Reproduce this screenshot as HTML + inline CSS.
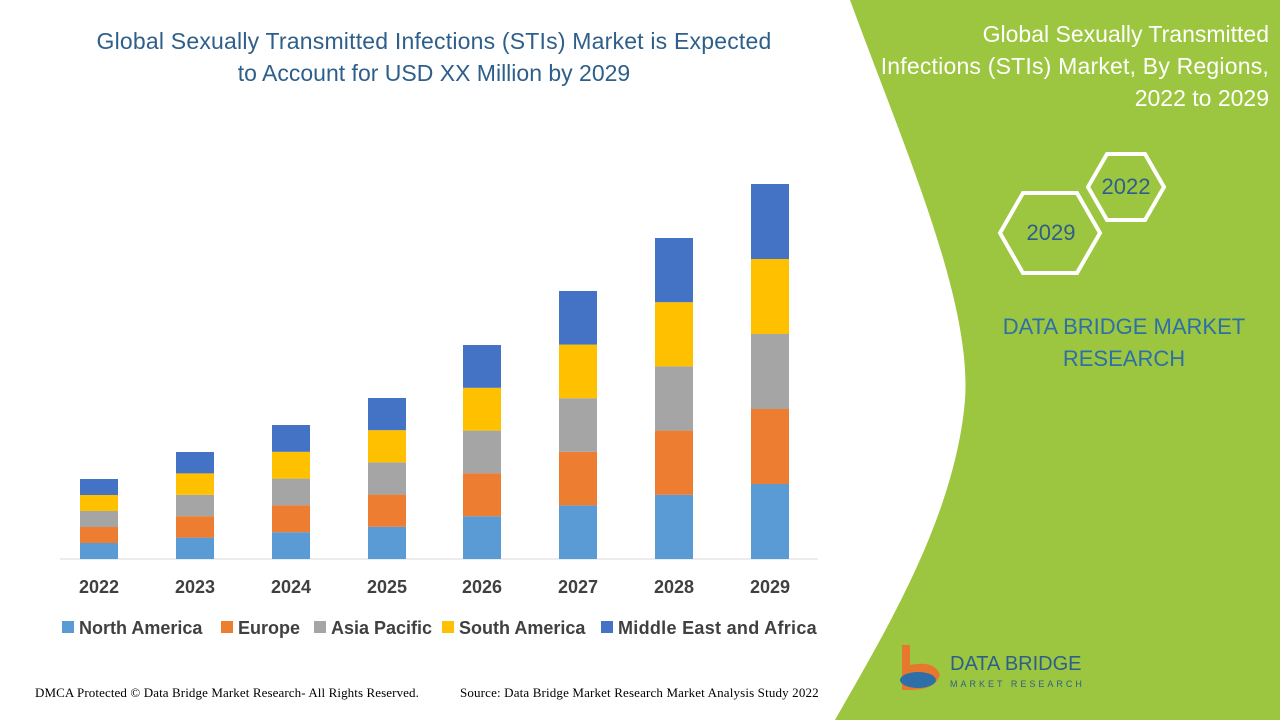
<!DOCTYPE html>
<html><head><meta charset="utf-8"><style>
body{margin:0;width:1280px;height:720px;overflow:hidden;background:#fff;font-family:"Liberation Sans",sans-serif}
</style></head><body>
<svg width="1280" height="720" xmlns="http://www.w3.org/2000/svg" style="position:absolute;left:0;top:0">
<path d="M850 0 L1280 0 L1280 720 L835 720 C 880 640, 955 520, 965 400 C 972 300, 905 150, 850 0 Z" fill="#9cc63f"/>
<text x="434" y="49" font-size="23" fill="#2e5f8a" text-anchor="middle" letter-spacing="0.2">Global Sexually Transmitted Infections (STIs) Market is Expected</text>
<text x="434" y="81" font-size="23" fill="#2e5f8a" text-anchor="middle">to Account for USD XX Million by 2029</text>
<g font-size="23" fill="#fff" text-anchor="end">
<text x="1269" y="42">Global Sexually Transmitted</text>
<text x="1269" y="74" letter-spacing="0.2">Infections (STIs) Market, By Regions,</text>
<text x="1269" y="106">2022 to 2029</text>
</g>
<polygon points="1088,187 1107,154 1145,154 1164,187 1145,220 1107,220" fill="none" stroke="#fff" stroke-width="4"/>
<polygon points="1000,233 1023,193 1077,193 1100,233 1077,273 1023,273" fill="none" stroke="#fff" stroke-width="4"/>
<text x="1126" y="194" font-size="22" fill="#2e5f8a" text-anchor="middle">2022</text>
<text x="1051" y="240" font-size="22" fill="#2e5f8a" text-anchor="middle">2029</text>
<text x="1124" y="334" font-size="22" fill="#2e6fa8" text-anchor="middle">DATA BRIDGE MARKET</text>
<text x="1124" y="366" font-size="22" fill="#2e6fa8" text-anchor="middle">RESEARCH</text>
<line x1="60" y1="559" x2="818" y2="559" stroke="#d9d9d9"/>
<g id="bars"></g>
<g font-size="18" font-weight="bold" fill="#404040" text-anchor="middle">
<text x="99" y="593">2022</text><text x="195" y="593">2023</text><text x="291" y="593">2024</text><text x="387" y="593">2025</text>
<text x="482" y="593">2026</text><text x="578" y="593">2027</text><text x="674" y="593">2028</text><text x="770" y="593">2029</text>
</g>
<g font-size="18" font-weight="bold" fill="#404040">
<rect x="62" y="621" width="12" height="12" fill="#5b9bd5"/><text x="79" y="634">North America</text>
<rect x="221" y="621" width="12" height="12" fill="#ed7d31"/><text x="238" y="634">Europe</text>
<rect x="314" y="621" width="12" height="12" fill="#a5a5a5"/><text x="331" y="634">Asia Pacific</text>
<rect x="442" y="621" width="12" height="12" fill="#ffc000"/><text x="459" y="634">South America</text>
<rect x="601" y="621" width="12" height="12" fill="#4472c4"/><text x="618" y="634" letter-spacing="0.3">Middle East and Africa</text>
</g>
<text x="35" y="697" font-size="13" fill="#000" font-family="Liberation Serif" letter-spacing="0.1">DMCA Protected © Data Bridge Market Research- All Rights Reserved.</text>
<text x="460" y="697" font-size="13" fill="#000" font-family="Liberation Serif" letter-spacing="0.15">Source: Data Bridge Market Research Market Analysis Study 2022</text>
<path d="M902 645 L910 645 L910 665 Q935 660 940 675 Q935 690 910 690 L902 690 Z" fill="#e8772e"/>
<ellipse cx="918" cy="680" rx="18" ry="8" fill="#2e6fa8"/>
<text x="950" y="670" font-size="20" fill="#2e5f8a">DATA BRIDGE</text>
<text x="950" y="687" font-size="9" fill="#2e5f8a" letter-spacing="3">MARKET RESEARCH</text>
</svg>
<script>
var xs=[99,195,291,387,482,578,674,770],tops=[479,452,425,398,345,291,238,184],c=["#5b9bd5","#ed7d31","#a5a5a5","#ffc000","#4472c4"],g=document.getElementById("bars"),s="";
for(var i=0;i<8;i++){var h=(559-tops[i])/5;for(var j=0;j<5;j++){s+='<rect x="'+(xs[i]-19)+'" y="'+(559-h*(j+1))+'" width="38" height="'+h+'" fill="'+c[j]+'"/>';}}
g.innerHTML=s;
</script>
</body></html>
